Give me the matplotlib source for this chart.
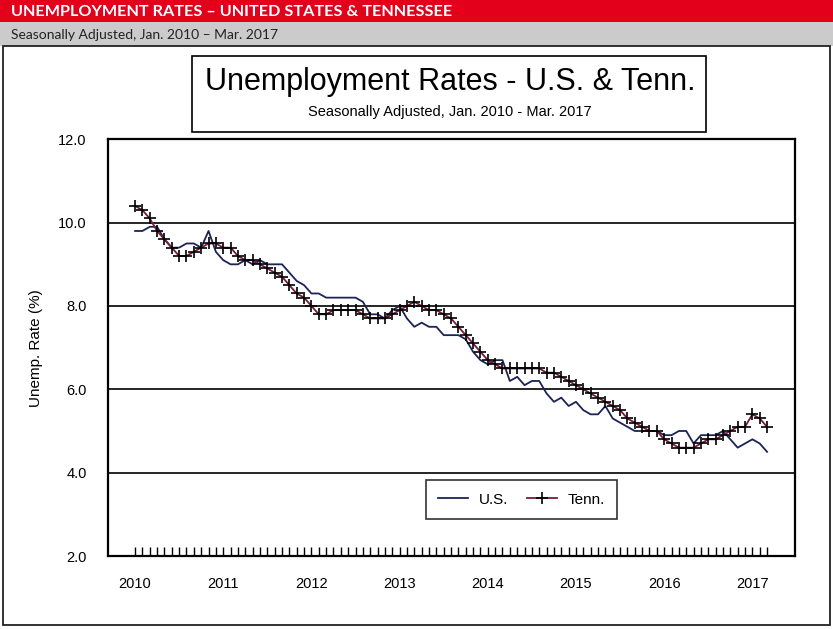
import matplotlib
matplotlib.use("Agg")
import matplotlib.pyplot as plt
from matplotlib.patches import Rectangle
import numpy as np

# ---------------- data ----------------
year_labels = ["2010", "2011", "2012", "2013", "2014", "2015", "2016", "2017"]

us_rate = [
    9.8, 9.8, 9.9, 9.9, 9.6, 9.4, 9.4, 9.5, 9.5, 9.4, 9.8, 9.3,   # 2010
    9.1, 9.0, 9.0, 9.1, 9.0, 9.1, 9.0, 9.0, 9.0, 8.8, 8.6, 8.5,   # 2011
    8.3, 8.3, 8.2, 8.2, 8.2, 8.2, 8.2, 8.1, 7.8, 7.8, 7.7, 7.9,   # 2012
    8.0, 7.7, 7.5, 7.6, 7.5, 7.5, 7.3, 7.3, 7.3, 7.2, 6.9, 6.7,   # 2013
    6.6, 6.7, 6.7, 6.2, 6.3, 6.1, 6.2, 6.2, 5.9, 5.7, 5.8, 5.6,   # 2014
    5.7, 5.5, 5.4, 5.4, 5.6, 5.3, 5.2, 5.1, 5.0, 5.0, 5.0, 5.0,   # 2015
    4.9, 4.9, 5.0, 5.0, 4.7, 4.9, 4.9, 4.9, 5.0, 4.8, 4.6, 4.7,   # 2016
    4.8, 4.7, 4.5,                                                # 2017
]

tn_rate = [
    10.4, 10.3, 10.1, 9.8, 9.6, 9.4, 9.2, 9.2, 9.3, 9.4, 9.5, 9.5,  # 2010
    9.4, 9.4, 9.2, 9.1, 9.1, 9.0, 8.9, 8.8, 8.7, 8.5, 8.3, 8.2,     # 2011
    8.0, 7.8, 7.8, 7.9, 7.9, 7.9, 7.9, 7.8, 7.7, 7.7, 7.7, 7.8,     # 2012
    7.9, 8.0, 8.1, 8.0, 7.9, 7.9, 7.8, 7.7, 7.5, 7.3, 7.1, 6.9,     # 2013
    6.7, 6.6, 6.5, 6.5, 6.5, 6.5, 6.5, 6.5, 6.4, 6.4, 6.3, 6.2,     # 2014
    6.1, 6.0, 5.9, 5.8, 5.7, 5.6, 5.5, 5.3, 5.2, 5.1, 5.0, 5.0,     # 2015
    4.8, 4.7, 4.6, 4.6, 4.6, 4.7, 4.8, 4.8, 4.9, 5.0, 5.1, 5.1,     # 2016
    5.4, 5.3, 5.1,                                                  # 2017
]

series_names = ["U.S.", "Tenn."]

# ---------------- figure ----------------
W, H = 833, 629
fig = plt.figure(figsize=(W / 100, H / 100), dpi=100)


def fx(x):
    return x / W


def fy(y):
    return 1 - y / H


def rect_px(x0, y0, x1, y1, **kw):
    r = Rectangle((fx(x0), fy(y1)), (x1 - x0) / W, (y1 - y0) / H,
                  transform=fig.transFigure, **kw)
    fig.patches.append(r)
    return r


# header bands
rect_px(0, 0, W, 22, facecolor="#e3001b", edgecolor="none", zorder=0)
rect_px(0, 22, W, 46, facecolor="#cbcbcb", edgecolor="none", zorder=0)
fig.text(fx(11), fy(11.5), "UNEMPLOYMENT RATES \u2013 UNITED STATES & TENNESSEE",
         color="white", fontsize=11.7, fontweight="bold", family="Lato",
         ha="left", va="center")
fig.text(fx(11), fy(35), "Seasonally Adjusted, Jan. 2010 \u2013 Mar. 2017",
         color="#222222", fontsize=10, family="Lato", ha="left", va="center")

# outer frame
rect_px(3, 46, 830, 625, facecolor="none", edgecolor="#222222", lw=1.3, zorder=1)

# title box
rect_px(192, 56, 706, 132, facecolor="white", edgecolor="black", lw=1.2, zorder=1)
fig.text(fx(450), fy(82), "Unemployment Rates - U.S. & Tenn.", fontsize=22,
         family="Liberation Sans", ha="center", va="center")
fig.text(fx(450), fy(112), "Seasonally Adjusted, Jan. 2010 - Mar. 2017", fontsize=10.5,
         family="Liberation Sans", ha="center", va="center")

# axes
left, right, top, bottom = 107.7, 794.7, 139.3, 556.0
ax = fig.add_axes([fx(left), fy(bottom), (right - left) / W, (bottom - top) / H])

months = np.arange(len(us_rate))
ax.plot(months, us_rate, color="#1b2357", lw=1.3, label=series_names[0], zorder=3)
ax.plot(months, tn_rate, color="#7a1a3a", lw=1.3, marker="+", ms=8.5,
        mec="black", mew=1.2, label=series_names[1], zorder=4)

ax.set_xlim(-3.72, 89.76)
ax.set_ylim(2, 12)

ax.set_yticks(np.arange(2, 12.01, 2))
ax.set_yticklabels([f"{v:.1f}" for v in np.arange(2, 12.01, 2)])
ax.yaxis.grid(True, color="black", lw=1.2)
ax.set_axisbelow(True)
ax.tick_params(axis="y", length=0, pad=15, labelsize=10.5)

ax.set_xticks(np.arange(0, len(us_rate), 12))
ax.set_xticklabels(year_labels)
ax.set_xticks(months, minor=True)
ax.tick_params(axis="x", which="both", direction="in", length=6.5, width=1.0,
               bottom=True, top=False)
ax.tick_params(axis="x", which="major", pad=15, labelsize=10.5)

for s in ax.spines.values():
    s.set_linewidth(1.6)
    s.set_color("black")

for lab in ax.get_xticklabels() + ax.get_yticklabels():
    lab.set_family("Liberation Sans")

ax.set_ylabel("Unemp. Rate (%)", fontsize=11, family="Liberation Sans")
ax.yaxis.set_label_coords((43 - left) / (right - left), 0.5)

leg = ax.legend(loc="center", bbox_to_anchor=((521.5 - left) / (right - left),
                                               (bottom - 499.5) / (bottom - top)),
                ncol=2, frameon=True, fancybox=False, edgecolor="black",
                prop={"family": "Liberation Sans", "size": 11},
                handlelength=2.0, columnspacing=1.2, borderpad=0.8,
                handletextpad=0.7)
leg.get_frame().set_linewidth(1.2)

fig.savefig("out.png", dpi=100)
